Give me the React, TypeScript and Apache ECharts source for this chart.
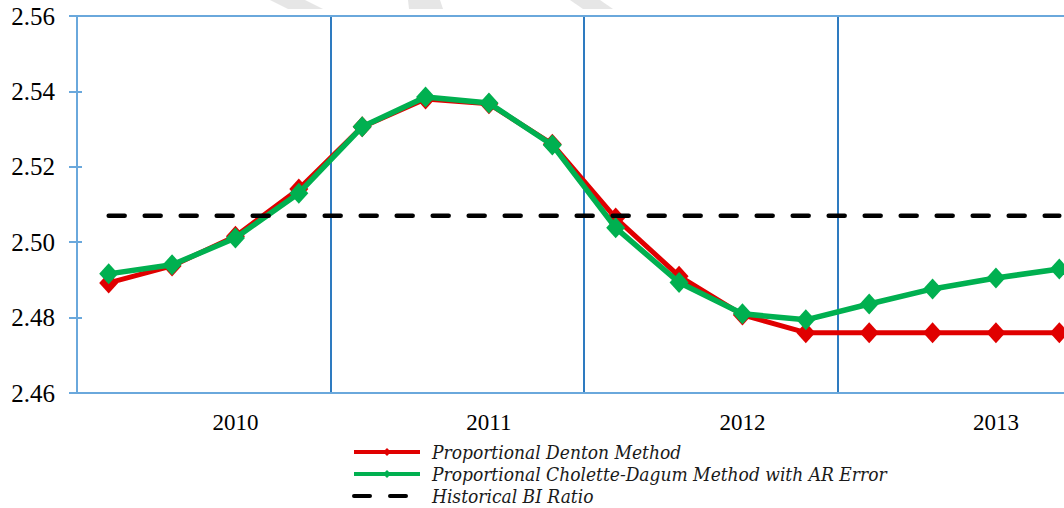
import React, { useEffect, useRef } from "react";
import * as echarts from "echarts";

const quarters = [
  "2010 Q1", "2010 Q2", "2010 Q3", "2010 Q4",
  "2011 Q1", "2011 Q2", "2011 Q3", "2011 Q4",
  "2012 Q1", "2012 Q2", "2012 Q3", "2012 Q4",
  "2013 Q1", "2013 Q2", "2013 Q3", "2013 Q4",
];
const dentonValues = [
  2.4892, 2.4937, 2.5016, 2.5141,
  2.5306, 2.5380, 2.5367, 2.5260,
  2.5064, 2.4910, 2.4807, 2.4760,
  2.4760, 2.4760, 2.4760, 2.4760,
];
const choletteValues = [
  2.4916, 2.4940, 2.5011, 2.5130,
  2.5306, 2.5385, 2.5369, 2.5258,
  2.5038, 2.4893, 2.4810, 2.4794,
  2.4836, 2.4876, 2.4905, 2.4929,
];
const historicalRatio = 2.507;
const historicalValues = quarters.map(() => historicalRatio);
const seriesNames = [
  "Proportional Denton Method",
  "Proportional Cholette-Dagum Method with AR Error",
  "Historical BI Ratio",
];
const yMin = 2.46;
const yMax = 2.56;
const yStep = 0.02;

export default function App() {
  const ref = useRef<HTMLDivElement>(null);
  useEffect(() => {
    if (!ref.current) return;
    const chart = echarts.init(ref.current, null, { renderer: "svg" });
    const serif = "Times New Roman, Liberation Serif, serif";
    chart.setOption({
      animation: false,
      backgroundColor: "#ffffff",
      grid: { left: 77, right: 9, top: 16, bottom: 115 },
      graphic: [
        { type: "polygon", shape: { points: [[270, 0], [305, 0], [323, 9], [288, 9]] }, style: { fill: "#e6e6e6" }, z: -1 },
        { type: "polygon", shape: { points: [[408, 0], [440, 0], [443, 9], [409, 9]] }, style: { fill: "#e6e6e6" }, z: -1 },
        { type: "polygon", shape: { points: [[570, 0], [600, 0], [613, 9], [583, 9]] }, style: { fill: "#e6e6e6" }, z: -1 },
      ],
      legend: {
        orient: "vertical",
        left: 352,
        top: 441,
        height: 90,
        padding: 0,
        itemWidth: 66,
        itemHeight: 10,
        itemGap: 0,
        lineStyle: { width: 4 },
        data: [
          { name: seriesNames[0] },
          { name: seriesNames[1] },
          { name: seriesNames[2], itemStyle: { opacity: 0 } },
        ],
        textStyle: {
          fontFamily: "DejaVu Serif Condensed",
          fontStyle: "italic",
          fontSize: 19,
          lineHeight: 22,
          color: "#1a1a1a",
          padding: [0, 0, 0, 7],
        },
      },
      xAxis: [
        {
          type: "category",
          data: quarters,
          boundaryGap: true,
          axisLine: { lineStyle: { color: "#6aa8dc", width: 2 } },
          axisTick: { show: false },
          axisLabel: {
            interval: (i: number) => i % 4 === 2,
            formatter: (v: string) => v.slice(0, 4),
            fontFamily: serif,
            fontSize: 23,
            color: "#000000",
            margin: 18,
          },
          splitLine: {
            show: true,
            interval: (i: number) => i % 4 === 0 && i > 0,
            lineStyle: { color: "#2e7bc0", width: 2 },
          },
        },
        {
          type: "category",
          data: quarters,
          position: "top",
          axisLine: { lineStyle: { color: "#6aa8dc", width: 2 } },
          axisTick: { show: false },
          axisLabel: { show: false },
          splitLine: { show: false },
        },
      ],
      yAxis: [
        {
          type: "value",
          min: yMin,
          max: yMax,
          interval: yStep,
          axisLine: { show: true, lineStyle: { color: "#6aa8dc", width: 2 } },
          axisTick: { show: true, length: 8, lineStyle: { color: "#6aa8dc", width: 2 } },
          axisLabel: {
            formatter: (v: number) => v.toFixed(2),
            fontFamily: serif,
            fontSize: 25,
            color: "#000000",
            margin: 22,
          },
          splitLine: { show: false },
        },
        {
          type: "value",
          min: yMin,
          max: yMax,
          interval: yStep,
          position: "left",
          axisLine: { show: false },
          axisTick: { show: true, inside: true, length: 5, lineStyle: { color: "#6aa8dc", width: 2 } },
          axisLabel: { show: false },
          splitLine: { show: false },
        },
      ],
      series: [
        {
          name: seriesNames[0],
          type: "line",
          data: dentonValues,
          symbol: "diamond",
          symbolSize: [19, 21],
          lineStyle: { color: "#e00000", width: 5 },
          itemStyle: { color: "#e00000" },
          z: 2,
        },
        {
          name: seriesNames[1],
          type: "line",
          data: choletteValues,
          symbol: "diamond",
          symbolSize: [19, 21],
          lineStyle: { color: "#00b050", width: 5.5 },
          itemStyle: { color: "#00b050" },
          z: 3,
        },
        {
          name: seriesNames[2],
          type: "line",
          data: historicalValues,
          symbol: "none",
          lineStyle: { color: "#000000", width: 4.5, type: [16, 20], cap: "round" },
          itemStyle: { color: "#000000" },
          z: 4,
        },
      ],
    });
    return () => chart.dispose();
  }, []);
  return (
    <div style={{ position: "fixed", left: 0, top: 0, width: 1064, height: 508, overflow: "hidden", background: "#fff" }}>
      <div ref={ref} style={{ width: 1100, height: 508 }} />
    </div>
  );
}
